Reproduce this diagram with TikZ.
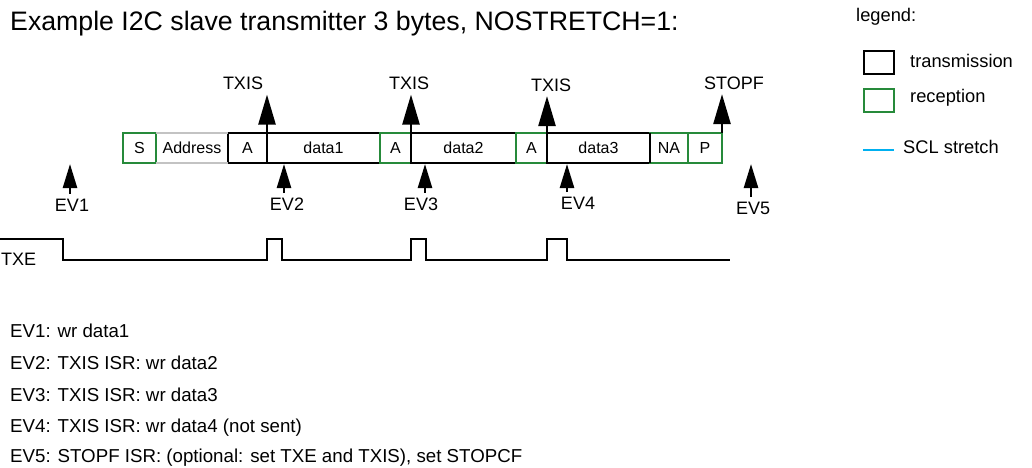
\documentclass[tikz,border=0pt]{standalone}
\usepackage{fontspec}
\setmainfont{Liberation Sans}
\usepackage{xcolor}
\usetikzlibrary{arrows.meta,positioning}

\definecolor{rxgreen}{RGB}{38,138,58}
\definecolor{sclblue}{RGB}{0,176,240}
\definecolor{addrgray}{RGB}{195,195,195}

\tikzset{
  fieldbox/.style={line width=2pt, inner sep=0pt, outer sep=0pt, minimum height=30pt,
    font=\fontsize{16}{18}\selectfont},
  txbox/.style={fieldbox, draw=black},
  rxbox/.style={fieldbox, draw=rxgreen},
  lbl/.style={inner sep=4.5pt, font=\fontsize{18}{20}\selectfont},
  note/.style={anchor=base west, inner sep=0pt, font=\fontsize{18.7}{21}\selectfont},
  legtext/.style={anchor=base west, inner sep=0pt, font=\fontsize{18.3}{20}\selectfont},
  flagarrow/.style={-{Triangle[length=30pt,width=17pt]}, line width=2.5pt},
  evarrow/.style={-{Triangle[length=24pt,width=14pt]}, line width=2.5pt},
}

\begin{document}
\begin{tikzpicture}[x=1pt,y=-1pt]
  \useasboundingbox (0,0) rectangle (1032,467);

  % title and legend
  \node[anchor=base west, inner sep=0pt, font=\fontsize{26.7}{29}\selectfont] (title) at (10,30)
    {Example I2C slave transmitter 3 bytes, NOSTRETCH=1:};
  \node[legtext] (legend) at (856,21) {legend:};
  \node[txbox, minimum width=30pt, minimum height=23pt] (legtx) at (879,62) {};
  \node[rxbox, minimum width=30pt, minimum height=23pt] (legrx) at (879,100) {};
  \coordinate (legscl) at (863,150);
  \draw[sclblue, line width=2.5pt] (legscl) -- ++(31,0);
  \node[legtext] (legtxt) at (910,67) {transmission};
  \node[legtext] (legrxt) at (910,102) {reception};
  \node[legtext] (legsclt) at (903,153) {SCL stretch};

  % frame fields
  \node[rxbox, minimum width=33pt] (s) at (139.5,148) {S};
  \node[fieldbox, minimum width=72pt, right=0pt of s] (addr) {Address};
  \node[txbox, minimum width=39pt, right=0pt of addr] (a1) {A};
  \node[txbox, minimum width=113pt, right=0pt of a1] (d1) {data1};
  \node[rxbox, minimum width=31pt, right=0pt of d1] (a2) {A};
  \node[txbox, minimum width=105pt, right=0pt of a2] (d2) {data2};
  \node[rxbox, minimum width=31pt, right=0pt of d2] (a3) {A};
  \node[txbox, minimum width=103pt, right=0pt of a3] (d3) {data3};
  \node[rxbox, minimum width=38pt, right=0pt of d3] (na) {NA};
  \node[rxbox, minimum width=34pt, right=0pt of na] (p) {P};
  \draw[line width=2pt] (d3.north east) -- (d3.south east);
  \draw[addrgray, line width=2pt] (addr.north west) -- (addr.north east)
    (addr.south west) -- (addr.south east);

  % flags set by hardware
  \node[lbl] (txis1) at (243,83.5) {TXIS};
  \node[lbl] (txis2) at (409,83.5) {TXIS};
  \node[lbl] (txis3) at (551,85) {TXIS};
  \node[lbl] (stopf) at (734,83) {STOPF};
  \draw[flagarrow] (d1.north west) -- (d1.north west |- txis1.south);
  \draw[flagarrow] (d2.north west) -- (d2.north west |- txis2.south);
  \draw[flagarrow] (d3.north west) -- (d3.north west |- txis3.south);
  \draw[flagarrow] (p.north east) -- (p.north east |- stopf.south);

  % software events
  \node[lbl] (ev1) at (72,205) {EV1};
  \node[lbl] (ev2) at (287,204) {EV2};
  \node[lbl] (ev3) at (421,204) {EV3};
  \node[lbl] (ev4) at (578,203) {EV4};
  \node[lbl] (ev5) at (753,208) {EV5};
  \coordinate (ev1pt) at (70,164);
  \coordinate (ev2pt) at (284,164);
  \coordinate (ev3pt) at (425,164);
  \coordinate (ev4pt) at (567,164);
  \coordinate (ev5pt) at (751,164);
  \draw[evarrow] (ev1pt |- ev1.north) -- (ev1pt);
  \draw[evarrow] (ev2pt |- ev2.north) -- (ev2pt);
  \draw[evarrow] (ev3pt |- ev3.north) -- (ev3pt);
  \draw[evarrow] (ev4pt |- ev4.north) -- (ev4pt);
  \draw[evarrow] (ev5pt |- ev5.north) -- (ev5pt);

  % TXE flag
  \node[note, font=\fontsize{18}{20}\selectfont] (txe) at (1,265) {TXE};
  \draw[line width=2pt] (0,238.5) -- (63,238.5) -- (63,260) -- (267,260) -- (267,238.5)
    -- (282,238.5) -- (282,260) -- (411,260) -- (411,238.5) -- (426,238.5) -- (426,260)
    -- (547,260) -- (547,238.5) -- (567,238.5) -- (567,260) -- (730,260);

  % event notes
  \node[note] (n1) at (10,337) {EV1: wr data1};
  \node[note] (n2) at (10,369) {EV2: TXIS ISR: wr data2};
  \node[note] (n3) at (10,401) {EV3: TXIS ISR: wr data3};
  \node[note] (n4) at (10,432) {EV4: TXIS ISR: wr data4 (not sent)};
  \node[note] (n5) at (10,462) {EV5: STOPF ISR: (optional: set TXE and TXIS), set STOPCF};
\end{tikzpicture}
\end{document}
